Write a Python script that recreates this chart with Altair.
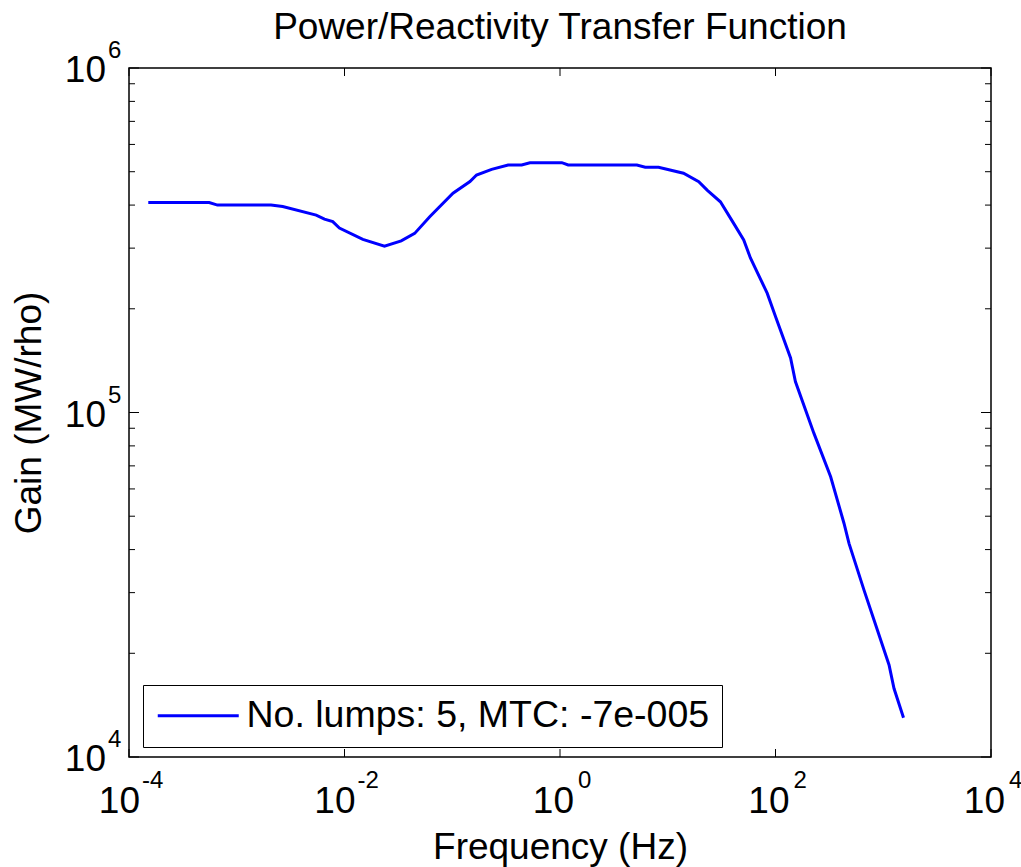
import altair as alt
import pandas as pd

# ---- data ----
freq_hz = [1.51e-4, 5.55e-4, 6.62e-4, 2.08e-3, 2.67e-3, 5.46e-3, 6.52e-3, 7.78e-3,
           8.97e-3, 1.48e-2, 2.35e-2, 3.36e-2, 4.48e-2, 6.18e-2, 0.1016, 0.146,
           0.168, 0.232, 0.330, 0.441, 0.526, 1.04, 1.19, 5.17, 6.18, 8.21, 14.0,
           19.4, 23.2, 30.8, 40.9, 50.7, 58.5, 83.7, 100.0, 138.0, 153.0, 227.0,
           325.0, 432.0, 481.0, 663.0, 821.0, 1132.0, 1259.0, 1542.0]
gain = [4.07e5, 4.07e5, 4.00e5, 4.00e5, 3.96e5, 3.74e5, 3.64e5, 3.58e5,
        3.43e5, 3.18e5, 3.04e5, 3.15e5, 3.31e5, 3.70e5, 4.33e5, 4.68e5,
        4.89e5, 5.08e5, 5.23e5, 5.23e5, 5.31e5, 5.31e5, 5.23e5, 5.23e5, 5.15e5,
        5.15e5, 4.95e5, 4.68e5, 4.42e5, 4.09e5, 3.54e5, 3.17e5, 2.81e5, 2.22e5,
        1.90e5, 1.44e5, 1.23e5, 8.71e4, 6.51e4, 4.77e4, 4.17e4, 3.05e4, 2.50e4,
        1.85e4, 1.58e4, 1.30e4]
series_name = "No. lumps: 5, MTC: -7e-005"

x_tick_exps = [-4, -2, 0, 2, 4]
y_major_exps = [4, 5, 6]
y_minor_vals = [2e4, 3e4, 4e4, 5e4, 6e4, 7e4, 8e4, 9e4,
                2e5, 3e5, 4e5, 5e5, 6e5, 7e5, 8e5, 9e5]

title_text = "Power/Reactivity Transfer Function"
x_title = "Frequency (Hz)"
y_title = "Gain (MW/rho)"

# ---- layout / style ----
W, H = 862, 689
FONT = "Liberation Sans"
FS = 37
FS_EXP = 24

df = pd.DataFrame({"freq": freq_hz, "gain": gain, "series": series_name})
xt = pd.DataFrame({"v": [10.0 ** e for e in x_tick_exps],
                   "e": x_tick_exps,
                   "base": "10",
                   "exp": [str(e) for e in x_tick_exps]})
yt = pd.DataFrame({"v": [10.0 ** e for e in y_major_exps],
                   "e": y_major_exps,
                   "base": "10",
                   "exp": [str(e) for e in y_major_exps]})
ym = pd.DataFrame({"v": y_minor_vals})

xs = alt.Scale(type="log", domain=[1e-4, 1e4], nice=False)
ys = alt.Scale(type="log", domain=[1e4, 1e6], nice=False)

x_axis = alt.Axis(title=x_title, labels=False, ticks=False, domain=False, grid=False,
                  titleFont=FONT, titleFontSize=FS, titleFontWeight="normal",
                  titleColor="black", titleBaseline="alphabetic", titlePadding=101)
y_axis = alt.Axis(title=y_title, labels=False, ticks=False, domain=False, grid=False,
                  titleFont=FONT, titleFontSize=FS, titleFontWeight="normal",
                  titleColor="black", titleBaseline="alphabetic", titlePadding=89)


def X(field):
    return alt.X(field, scale=xs, axis=x_axis, title=x_title)


def Y(field):
    return alt.Y(field, scale=ys, axis=y_axis, title=y_title)


line = alt.Chart(df).mark_line(strokeWidth=3, clip=True).encode(
    x=X("freq:Q"),
    y=Y("gain:Q"),
    color=alt.Color(
        "series:N",
        scale=alt.Scale(range=["#0000ff"]),
        legend=alt.Legend(
            title=None, orient="none", legendX=14, legendY=617,
            symbolType="M-1,0H4.4", symbolSize=900, symbolStrokeWidth=3,
            symbolOffset=-1, labelFont=FONT, labelFontSize=37.5, labelColor="black",
            labelOffset=55, labelLimit=800, padding=12,
            strokeColor="black", fillColor="white", cornerRadius=0,
        ),
    ),
)

TL = 8
TLm = 6
tick_bottom = alt.Chart(xt).mark_rule(color="black", strokeWidth=1).encode(
    x=X("v:Q"), y=alt.value(H), y2=alt.value(H - TL))
tick_top = alt.Chart(xt).mark_rule(color="black", strokeWidth=1).encode(
    x=X("v:Q"), y=alt.value(0), y2=alt.value(TL))
tick_left = alt.Chart(yt).mark_rule(color="black", strokeWidth=1).encode(
    y=Y("v:Q"), x=alt.value(0), x2=alt.value(TL + 2))
tick_right = alt.Chart(yt).mark_rule(color="black", strokeWidth=1).encode(
    y=Y("v:Q"), x=alt.value(W), x2=alt.value(W - TL - 2))
mtick_left = alt.Chart(ym).mark_rule(color="black", strokeWidth=1).encode(
    y=Y("v:Q"), x=alt.value(0), x2=alt.value(TLm))
mtick_right = alt.Chart(ym).mark_rule(color="black", strokeWidth=1).encode(
    y=Y("v:Q"), x=alt.value(W), x2=alt.value(W - TLm))

txt = dict(font=FONT, color="black", baseline="alphabetic")

xl_base_neg = alt.Chart(xt).transform_filter("datum.e < 0").mark_text(
    align="right", dx=11, dy=56, fontSize=FS, **txt).encode(
    x=X("v:Q"), y=alt.value(H), text="base:N")
xl_exp_neg = alt.Chart(xt).transform_filter("datum.e < 0").mark_text(
    align="left", dx=13, dy=31, fontSize=FS_EXP, **txt).encode(
    x=X("v:Q"), y=alt.value(H), text="exp:N")
xl_base_pos = alt.Chart(xt).transform_filter("datum.e >= 0").mark_text(
    align="right", dx=14, dy=56, fontSize=FS, **txt).encode(
    x=X("v:Q"), y=alt.value(H), text="base:N")
xl_exp_pos = alt.Chart(xt).transform_filter("datum.e >= 0").mark_text(
    align="left", dx=18, dy=31, fontSize=FS_EXP, **txt).encode(
    x=X("v:Q"), y=alt.value(H), text="exp:N")

yl_base = alt.Chart(yt).mark_text(
    align="right", dx=-23, dy=14, fontSize=FS, **txt).encode(
    y=Y("v:Q"), x=alt.value(0), text="base:N")
yl_exp = alt.Chart(yt).mark_text(
    align="left", dx=-21, dy=-10, fontSize=FS_EXP, **txt).encode(
    y=Y("v:Q"), x=alt.value(0), text="exp:N")

chart = alt.layer(
    tick_bottom, tick_top, tick_left, tick_right, mtick_left, mtick_right,
    xl_base_neg, xl_exp_neg, xl_base_pos, xl_exp_pos, yl_base, yl_exp,
    line,
).properties(
    width=W,
    height=H,
    background="white",
    title=alt.TitleParams(title_text, font=FONT, fontSize=FS, fontWeight="normal",
                          color="black", anchor="middle", baseline="alphabetic",
                          offset=0, dy=37),
    autosize=alt.AutoSizeParams(type="none"),
    padding={"left": 129, "top": 68, "right": 30, "bottom": 110},
).configure_view(
    stroke="black", strokeWidth=1.5
)

chart.save("out.html", embed_options={"renderer": "svg", "actions": False})
